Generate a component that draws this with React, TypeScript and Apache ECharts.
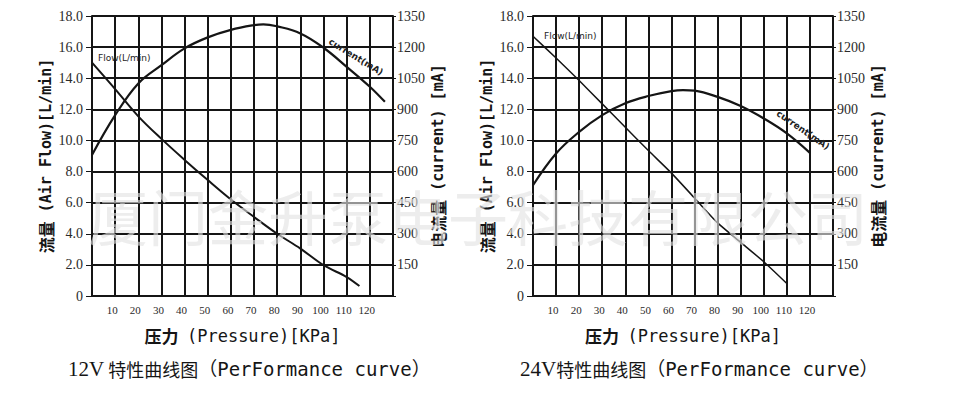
import React, { useEffect, useRef } from 'react';
import * as echarts from 'echarts';

// ---- data ----
const pressure12Flow = [0, 10, 20, 30, 40, 50, 60, 70, 80, 90, 100, 110, 115.5];
const flow12 = [15.0, 13.3, 11.55, 10.1, 8.75, 7.45, 6.2, 5.08, 4.0, 3.05, 1.98, 1.22, 0.64];
const pressure12Current = [0, 10, 20, 30, 40, 50, 60, 70, 74, 80, 90, 100, 110, 120, 126.5];
const current12 = [680, 872, 1025, 1113, 1194, 1247, 1283, 1306, 1310, 1300, 1266, 1197, 1105, 1009, 936];

const pressure24Flow = [0, 10, 20, 30, 40, 50, 60, 70, 80, 90, 100, 110];
const flow24 = [16.7, 15.3, 13.85, 12.35, 10.85, 9.35, 7.9, 6.3, 4.7, 3.45, 2.2, 0.8];
const pressure24Current = [0, 10, 20, 30, 40, 50, 60, 65, 70, 80, 90, 100, 110, 120];
const current24 = [534, 687, 791, 872, 929, 964, 988, 993, 990, 960, 916, 856, 784, 690];

const xMin = 0, xMax = 130, xStep = 10;
const flowMin = 0, flowMax = 18, flowStep = 2;
const curMin = 0, curMax = 1350, curStep = 150;

const titles = ['12V', '24V'];
const watermark = '厦门金升泵电子科技有限公司';

const INK = '#151515';
const LABEL = '#2a2a2a';

const pairs = (xs: number[], ys: number[]) => xs.map((x, i) => [x, ys[i]]);

function buildOption() {
  const grids = [
    { left: 92, top: 16, width: 301, height: 280 },
    { left: 533, top: 16, width: 300, height: 280 },
  ];
  const xAxes = [0, 1].map((g) => ({
    type: 'value',
    gridIndex: g,
    min: xMin,
    max: xMax,
    interval: xStep,
    name: '{a|压力} {b|(Pressure)[KPa]}',
    nameLocation: 'middle',
    nameGap: 31,
    nameTextStyle: {
      fontSize: 14,
      fontFamily: 'DejaVu Sans Mono',
      color: INK,
      rich: {
        a: { fontFamily: 'Noto Sans CJK SC', fontWeight: 'bold', fontSize: 17, color: INK },
        b: { fontFamily: 'DejaVu Sans Mono', fontSize: 17, color: INK },
      },
    },
    axisLine: { show: true, lineStyle: { color: INK, width: 2 } },
    axisTick: { show: false },
    splitLine: { show: true, lineStyle: { color: INK, width: 2 } },
    axisLabel: {
      fontFamily: 'Liberation Serif',
      fontSize: 11,
      color: LABEL,
      margin: 8,
      padding: [0, 6, 0, 0],
      formatter: (v: number) => (v === xMin || v === xMax ? '' : String(v)),
    },
  }));
  const yAxes: any[] = [];
  [0, 1].forEach((g) => {
    yAxes.push({
      type: 'value',
      gridIndex: g,
      position: 'left',
      min: flowMin,
      max: flowMax,
      interval: flowStep,
      name: '{a|流量} {b|(Air Flow)[L/min]}',
      nameLocation: 'middle',
      nameRotate: 90,
      nameGap: 38,
      nameTextStyle: {
        fontSize: 15,
        fontFamily: 'DejaVu Sans Mono',
        fontWeight: 'bold',
        color: INK,
        rich: {
          a: { fontFamily: 'Noto Sans CJK SC', fontWeight: 'bold', fontSize: 16, color: INK },
          b: { fontFamily: 'DejaVu Sans Mono', fontWeight: 'bold', fontSize: 15, color: INK },
        },
      },
      axisLine: { show: true, lineStyle: { color: INK, width: 2 } },
      axisTick: { show: true, length: 6, lineStyle: { color: INK, width: 1 } },
      splitLine: { show: true, lineStyle: { color: INK, width: 2 } },
      axisLabel: {
        fontFamily: 'Liberation Serif',
        fontSize: 14,
        color: LABEL,
        margin: 9,
        formatter: (v: number) => (v === 0 ? '0' : v.toFixed(1)),
      },
    });
    yAxes.push({
      type: 'value',
      gridIndex: g,
      position: 'right',
      min: curMin,
      max: curMax,
      interval: curStep,
      name: '{a|电流量} {b|(current) [mA]}',
      nameLocation: 'middle',
      nameRotate: 90,
      nameGap: 37,
      nameTextStyle: {
        fontSize: 15,
        fontFamily: 'DejaVu Sans Mono',
        fontWeight: 'bold',
        color: INK,
        rich: {
          a: { fontFamily: 'Noto Sans CJK SC', fontWeight: 'bold', fontSize: 16, color: INK },
          b: { fontFamily: 'DejaVu Sans Mono', fontWeight: 'bold', fontSize: 15, color: INK },
        },
      },
      axisLine: { show: true, lineStyle: { color: INK, width: 2 } },
      axisTick: { show: true, length: 3, lineStyle: { color: INK, width: 1 } },
      splitLine: { show: false },
      axisLabel: {
        fontFamily: 'Liberation Serif',
        fontSize: 14,
        color: LABEL,
        margin: 4,
        formatter: (v: number) => (v === 0 ? '' : String(v)),
      },
    });
  });

  const lineBase = { type: 'line', showSymbol: false, symbol: 'none', silent: true, z: 3 };
  const series = [
    { ...lineBase, name: 'Flow 12V', xAxisIndex: 0, yAxisIndex: 0, smooth: 0.35, data: pairs(pressure12Flow, flow12), lineStyle: { color: INK, width: 2 } },
    { ...lineBase, name: 'Current 12V', xAxisIndex: 0, yAxisIndex: 1, smooth: 0.4, data: pairs(pressure12Current, current12), lineStyle: { color: INK, width: 2.2 } },
    { ...lineBase, name: 'Flow 24V', xAxisIndex: 1, yAxisIndex: 2, smooth: 0.2, data: pairs(pressure24Flow, flow24), lineStyle: { color: INK, width: 1.5 } },
    { ...lineBase, name: 'Current 24V', xAxisIndex: 1, yAxisIndex: 3, smooth: 0.4, data: pairs(pressure24Current, current24), lineStyle: { color: INK, width: 2.2 } },
  ];

  const titleRich = {
    a: { fontFamily: 'Liberation Serif', fontSize: 21, fontWeight: 'normal', color: INK },
    b: { fontFamily: 'Noto Sans CJK SC', fontSize: 18, fontWeight: 'normal', color: INK },
    c: { fontFamily: 'DejaVu Sans Mono, Noto Sans CJK SC', fontSize: 19, fontWeight: 'normal', color: INK },
  };
  const title = [
    { left: 63, top: 353, text: `{a|${titles[0]}}{b| 特性曲线图}{c|（PerFormance curve）}`, textStyle: { fontWeight: 'normal', rich: titleRich } },
    { left: 515, top: 353, text: `{a|${titles[1]}}{b|特性曲线图}{c|（PerFormance curve）}`, textStyle: { fontWeight: 'normal', rich: titleRich } },
  ];

  const annoFont = { fontFamily: 'DejaVu Sans', fontSize: 9, fill: '#222' };
  const graphic = [
    { type: 'text', x: 98, y: 53, style: { ...annoFont, text: 'Flow(L/min)' }, z: 10 },
    { type: 'text', x: 544, y: 31, style: { ...annoFont, text: 'Flow(L/min)' }, z: 10 },
    { type: 'text', x: 356, y: 57, rotation: -0.55, style: { ...annoFont, fontWeight: 'bold', text: 'current(mA)', align: 'center', verticalAlign: 'middle' }, z: 10 },
    { type: 'text', x: 803, y: 130, rotation: -0.6, style: { ...annoFont, fontWeight: 'bold', text: 'current(mA)', align: 'center', verticalAlign: 'middle' }, z: 10 },
    { type: 'text', x: 88, y: 214, style: { text: watermark, fontFamily: 'Noto Sans CJK SC', fontSize: 60, fill: 'rgba(226,226,226,0.62)', verticalAlign: 'middle' }, z: 20 },
  ];

  return {
    animation: false,
    backgroundColor: '#ffffff',
    grid: grids,
    xAxis: xAxes,
    yAxis: yAxes,
    series,
    title,
    graphic,
  };
}

export default function App() {
  const ref = useRef<HTMLDivElement>(null);
  useEffect(() => {
    if (!ref.current) return;
    const chart = echarts.init(ref.current, null, { renderer: 'svg' });
    chart.setOption(buildOption() as any);
    return () => chart.dispose();
  }, []);
  return (
    <div
      ref={ref}
      style={{ position: 'absolute', left: 0, top: 0, width: 960, height: 404, background: '#fff' }}
    />
  );
}
